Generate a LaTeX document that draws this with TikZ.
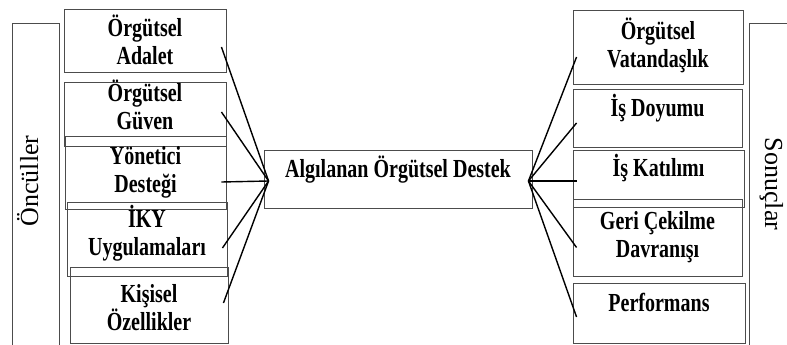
\documentclass[tikz,border=0pt]{standalone}
\usepackage{fontspec}
\setmainfont{Liberation Serif}[FakeStretch=0.77]
\newfontfamily\sidefont{Liberation Serif}
\usetikzlibrary{positioning}
\tikzset{
    model/.style={x=1pt, y=-1pt, font=\fontsize{26}{28}\selectfont\bfseries},
    factor/.style={draw=black!70, line width=0.9pt, align=center, inner sep=0pt},
    oneline/.style={text height=17pt, text depth=21pt},
    % move a two-line text down (+) or up (-) inside its box
    lower/.style={text height={46pt+#1pt}, text depth={6pt-#1pt}},
    sidebox/.style={draw=black!70, line width=0.9pt, minimum width=47pt, minimum height=340pt},
    sidetext/.style={font=\sidefont\fontsize{26}{30}\selectfont, anchor=base},
    link/.style={line width=1.4pt},
}

\begin{document}
\begin{tikzpicture}[model]
    \useasboundingbox (0,0) rectangle (787,345);
    \clip (0,0) rectangle (787,345);

    % side frames
    \node[sidebox] (onculler) at (35.5,193) {};
    \node[sidetext, rotate=90] (onculler-t) at (38,181) {Öncüller};
    \node[sidebox] (sonuclar) at (773,193) {};
    \node[sidetext, rotate=-90] (sonuclar-t) at (765,184) {Sonuçlar};

    % antecedents
    \node[factor, lower=4, minimum width=162pt, minimum height=63pt] (adalet)   at (145,40.5)  {Örgütsel\\Adalet};
    \node[factor, lower=-5, minimum width=162pt, minimum height=64pt] (guven)    at (145,114)   {Örgütsel\\Güven};
    \node[factor, lower=0, minimum width=161pt, minimum height=73pt] (yonetici) at (145.5,172.5) {Yönetici\\Desteği};
    \node[factor, lower=-4, minimum width=160pt, minimum height=74pt] (iky)      at (147,239)   {İKY\\Uygulamaları};
    \node[factor, lower=5, minimum width=158pt, minimum height=76pt] (kisisel)  at (149,305)   {Kişisel\\Özellikler};

    % central construct
    \node[factor, oneline, minimum width=268pt, minimum height=58pt] (destek) at (398,179) {Algılanan Örgütsel Destek};

    % outcomes
    \node[factor, lower=0, minimum width=170pt, minimum height=74pt] (vatandaslik) at (658,47) {Örgütsel\\Vatandaşlık};
    \node[factor, oneline, minimum width=169pt, minimum height=58pt] (doyum)   at (657.5,118) {İş Doyumu};
    \node[factor, oneline, minimum width=171pt, minimum height=57pt] (katilim) at (658.5,178.5) {İş Katılımı};
    \node[factor, lower=0, minimum width=169pt, minimum height=77pt] (cekilme) at (657.5,237.5) {Geri Çekilme\\Davranışı};
    \node[factor, oneline, minimum width=172pt, minimum height=60pt] (perf)    at (659,313) {Performans};

    \coordinate (lhub) at ([xshift=5pt, yshift=-2pt]destek.west);
    \coordinate (rhub) at ([xshift=-4pt, yshift=-2pt]destek.east);

    \foreach \n/\dy in {adalet/-6.5, guven/2, yonetici/-9.5, iky/-9, kisisel/2}
        \draw[link] ([xshift=-5pt, yshift=\dy pt]\n.east) -- (lhub);
    \foreach \n/\dy in {vatandaslik/-10, doyum/-5, katilim/-2.5, cekilme/-10, perf/-4}
        \draw[link] (rhub) -- ([xshift=4pt, yshift=\dy pt]\n.west);
\end{tikzpicture}
\end{document}
